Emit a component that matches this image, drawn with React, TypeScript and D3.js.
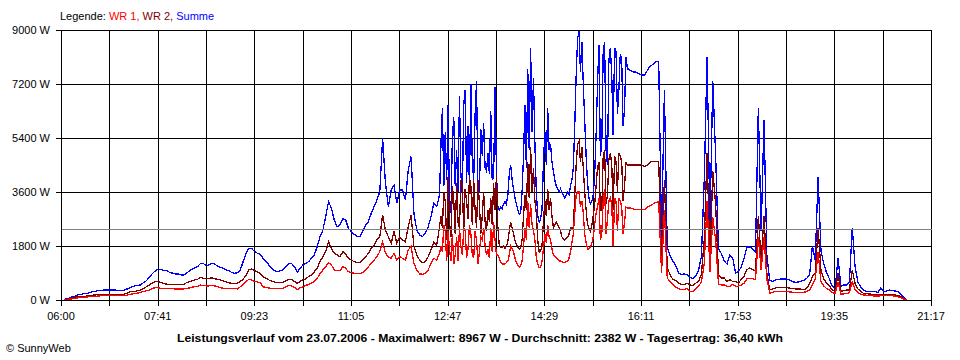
import React from "react";
import * as d3 from "d3";

// Sampling times, minutes after 06:00 (3-min samples, 1.5-min samples in the gusty midday part)
const sampleMinutes = [
  ...d3.range(3, 400, 3),
  ...d3.range(400.5, 599, 1.5),
  ...d3.range(600, 892, 3),
];
const SPAN_MIN = 917; // 06:00 .. 21:17

const xTickLabels = ["06:00", "07:41", "09:23", "11:05", "12:47", "14:29", "16:11", "17:53", "19:35", "21:17"];
const yTickValues = [0, 1800, 3600, 5400, 7200, 9000];
const averageW = 2382;
const legendParts = [
  { text: "Legende: ", color: "#000000" },
  { text: "WR 1, ", color: "#ff0000" },
  { text: "WR 2, ", color: "#800000" },
  { text: "Summe", color: "#0000ff" },
];
const title = "Leistungsverlauf vom 23.07.2006 - Maximalwert: 8967 W - Durchschnitt: 2382 W - Tagesertrag: 36,40 kWh";
const credit = "© SunnyWeb";

// Summe (blue)
const summe = [
  20, 40, 70, 110, 130, 170, 190, 210, 220, 240,
  280, 290, 310, 320, 330, 330, 330, 330, 330, 320,
  310, 320, 360, 390, 440, 470, 490, 500, 580, 640,
  760, 870, 960, 1020, 1020, 990, 980, 930, 900, 870,
  870, 840, 830, 890, 960, 1030, 1070, 1110, 1220, 1220,
  1140, 1170, 1220, 1200, 1130, 1090, 1060, 1000, 970, 920,
  890, 910, 1000, 1280, 1560, 1720, 1720, 1610, 1560, 1530,
  1390, 1300, 1170, 1060, 980, 940, 970, 1000, 1110, 1200,
  1220, 1110, 920, 1060, 1170, 1220, 1280, 1390, 1500, 1780,
  2110, 2330, 2780, 3280, 3060, 2670, 2440, 2500, 2720, 2670,
  2390, 2280, 2190, 2130, 2110, 2280, 2500, 2610, 2890, 3110,
  3330, 3610, 5390, 3890, 3110, 3670, 3830, 3220, 3670, 3670,
  3330, 4330, 4780, 2890, 2330, 2170, 2110, 2220, 2440, 2780,
  3220, 3110, 3500,
  // 1.5-min part
  5200, 6400, 3800, 5600, 4000, 6500, 3200, 2900, 5400, 6100,
  3800, 5000, 3600, 6800, 4200, 3500, 6500, 7000, 3900, 5800,
  3800, 7200, 4600, 4000, 6200, 7300, 3500, 3600, 5700, 4800,
  5900, 4400, 4300, 4900, 4200, 6300, 4000, 4100, 7100, 4200,
  3100, 3000, 3100, 3050, 3200, 3300, 3200, 3500, 4200, 4500,
  4000, 3700, 3400, 3200, 3000, 2850, 2900, 3600, 4800, 6500,
  4400, 7700, 5000, 8400, 5600, 7400, 5200, 3600, 2800, 2600,
  2700, 3000, 4600, 5600, 4500, 6400, 5000, 5200, 4600, 4300,
  4000, 3800, 3700, 3600, 3700, 3600, 3500, 3400, 3500, 3600,
  3500, 3800, 4000, 4400, 5800, 7500, 8700, 8967, 7600, 8600,
  7200, 6000, 4800, 3900, 3400, 3200, 3300, 3500, 4200, 5500,
  7200, 8500, 4800, 5200, 8300, 8600, 5000, 4500, 8000, 8400,
  7500, 5500, 8400, 8300, 6200, 7000, 8200, 8000, 5800, 6400,
  8100, 7700, 7700,
  // 3-min part
  7650,
  7600, 7600, 7550, 7500, 7500, 7650, 7800, 7850, 7950, 7950,
  2100, 7000, 1750, 1460, 1300, 1150, 900, 840, 870, 840,
  750, 720, 800, 1000, 1450, 4000, 8100, 2500, 7300, 4800,
  1700, 1550, 1300, 1200, 1500, 1400, 900, 950, 1100, 1400,
  1770, 1770, 1700, 1600, 6400, 2300, 6000, 1500, 650, 620,
  670, 690, 700, 700, 700, 660, 610, 590, 600, 630,
  660, 720, 830, 1800, 1330, 4100, 1650, 1200, 900, 700,
  450, 390, 1400, 450, 500, 500, 600, 2400, 1100, 600,
  420, 330, 280, 280, 280, 280, 250, 400, 280, 300,
  330, 320, 300, 280, 190, 110, 0,
];

// WR 2 (dark red)
const wr2 = [
  10, 20, 40, 90, 100, 110, 110, 120, 130, 140,
  160, 170, 180, 180, 180, 180, 180, 180, 180, 180,
  190, 190, 220, 270, 280, 290, 310, 330, 390, 440,
  500, 560, 610, 610, 590, 560, 530, 510, 510, 510,
  510, 510, 520, 570, 610, 640, 670, 690, 760, 720,
  710, 720, 740, 710, 690, 670, 630, 600, 570, 560,
  560, 560, 620, 690, 830, 1000, 1030, 980, 930, 890,
  780, 720, 670, 630, 600, 580, 580, 590, 640, 690,
  680, 620, 560, 620, 670, 710, 780, 830, 940, 1060,
  1280, 1440, 1610, 1940, 1720, 1560, 1500, 1440, 1610, 1530,
  1390, 1330, 1280, 1240, 1240, 1330, 1440, 1560, 1720, 1830,
  2000, 2110, 2830, 2330, 2110, 1890, 2280, 1890, 2110, 2000,
  1940, 2440, 2830, 1780, 1500, 1330, 1240, 1280, 1440, 1670,
  1940, 1830, 2440,
  // 1.5-min part
  2800, 2400, 3600, 3300, 2000, 4100, 2600, 2100, 3800, 3300,
  2200, 3900, 2600, 2400, 4000, 3800, 2300, 3700, 3300, 2700,
  4100, 3800, 2500, 4000, 3000, 2400, 4000, 3200, 2200, 2800,
  3600, 2600, 2300, 3000, 2600, 3400, 2500, 3900, 3000, 4200,
  2400, 1800, 1750, 1750, 1800, 1700, 1800, 1950, 2300, 2600,
  2400, 2200, 2000, 1850, 1750, 1700, 1750, 2000, 2800, 3500,
  3000, 4600, 3400, 5100, 3600, 4400, 3300, 2900, 2000, 1600,
  1650, 1800, 2600, 3300, 2800, 3700, 3000, 3400, 2800, 2400,
  2500, 2600, 2500, 2400, 2300, 2100, 2050, 2000, 2050, 2100,
  2200, 2400, 2400, 2400, 3500, 4500, 5200, 5300, 4600, 5100,
  4400, 3600, 3000, 2500, 2400, 2300, 2500, 2800, 3200, 3800,
  4400, 4600, 3000, 3000, 4800, 5000, 3200, 3500, 4700, 4900,
  4500, 3000, 4800, 4600, 3600, 4900, 4800, 4600, 3300, 3800,
  4600, 4500, 4500,
  // 3-min part
  4500,
  4500, 4500, 4500, 4500, 4450, 4500, 4600, 4620, 4620, 4620,
  1300, 4000, 1070, 850, 680, 650, 560, 510, 510, 560,
  510, 470, 560, 620, 850, 2000, 4900, 1300, 4300, 3200,
  850, 730, 730, 620, 680, 620, 620, 570, 680, 800,
  1010, 1070, 1010, 960, 2800, 1300, 2800, 900, 340, 370,
  400, 420, 420, 420, 410, 400, 380, 370, 370, 360,
  340, 390, 530, 780, 890, 2400, 1000, 700, 560, 460,
  330, 290, 890, 290, 310, 330, 340, 1000, 550, 370,
  280, 220, 210, 200, 190, 180, 170, 190, 190, 190,
  190, 190, 170, 150, 120, 60, 0,
];

// WR 1 (red)
const wr1 = [
  10, 20, 30, 40, 60, 70, 80, 90, 100, 110,
  120, 120, 130, 140, 140, 140, 140, 140, 140, 140,
  140, 140, 160, 180, 200, 220, 230, 260, 280, 310,
  330, 380, 410, 410, 390, 380, 380, 380, 380, 370,
  370, 370, 370, 380, 400, 430, 440, 460, 500, 480,
  470, 470, 480, 470, 440, 410, 390, 380, 380, 380,
  380, 370, 440, 530, 610, 690, 670, 620, 600, 580,
  440, 420, 400, 390, 380, 380, 380, 390, 440, 480,
  470, 420, 340, 410, 440, 490, 510, 560, 620, 720,
  870, 1000, 1110, 1240, 1170, 1000, 980, 970, 1110, 1060,
  940, 910, 890, 870, 880, 920, 1000, 1110, 1220, 1330,
  1440, 1610, 1940, 1560, 1440, 1390, 1560, 1330, 1440, 1390,
  1330, 1670, 1780, 1220, 1000, 870, 860, 890, 1000, 1220,
  1390, 1330, 1560,
  // 1.5-min part
  1800, 1600, 2500, 2300, 1300, 2300, 1700, 1300, 2200, 1200,
  1500, 2100, 1300, 2400, 1800, 1500, 2400, 2300, 1400, 1700,
  2500, 2200, 1500, 1400, 2300, 2000, 1200, 1600, 2100, 2000,
  2400, 1800, 1500, 1700, 1400, 2400, 1600, 2600, 2000, 1500,
  1500, 1400, 1250, 1200, 1200, 1200, 1250, 1300, 1500, 1800,
  1700, 1600, 1400, 1250, 1150, 1100, 1150, 1300, 1800, 2400,
  2000, 3300, 2400, 3200, 2500, 2300, 2000, 1400, 1200, 1070,
  1100, 1300, 1700, 2200, 1900, 2500, 2100, 2000, 1700, 1500,
  1450, 1400, 1350, 1300, 1300, 1280, 1260, 1250, 1270, 1300,
  1400, 1600, 1900, 2200, 2900, 3500, 3600, 3600, 3100, 3300,
  2900, 2200, 1900, 1700, 1700, 1750, 1900, 2100, 2500, 2900,
  3100, 3400, 2000, 2200, 3300, 3700, 2200, 2700, 3300, 3400,
  3200, 1800, 3400, 3300, 2300, 3400, 3300, 3100, 2200, 2600,
  3100, 3070, 3070,
  // 3-min part
  3070,
  3040, 3010, 3010, 3010, 3010, 3100, 3150, 3200, 3250, 3270,
  900, 3000, 730, 620, 510, 420, 380, 350, 350, 380,
  290, 290, 360, 460, 600, 1200, 3290, 950, 2750, 2000,
  530, 500, 500, 460, 460, 520, 460, 460, 500, 560,
  700, 730, 710, 680, 2100, 1000, 2100, 700, 230, 260,
  280, 290, 290, 290, 280, 270, 260, 250, 260, 260,
  260, 280, 330, 500, 700, 1600, 600, 470, 380, 330,
  250, 220, 600, 200, 200, 220, 240, 600, 350, 250,
  200, 170, 160, 150, 140, 130, 130, 140, 140, 140,
  140, 140, 130, 110, 80, 40, 0,
];

const FONT = "'Liberation Sans', Arial, sans-serif";

export default function App() {
  const W = 960;
  const H = 360;
  const x = d3.scaleLinear().domain([0, SPAN_MIN]).range([61, 931]);
  const y = d3.scaleLinear().domain([0, 9000]).range([300, 30]);
  const px = (v: number) => Math.round(v) + 0.5;

  const line = d3
    .line<number>()
    .defined((_, i) => i < sampleMinutes.length)
    .x((_, i) => x(sampleMinutes[i]))
    .y((d) => y(d));

  const gridMins = d3.range(19).map((i) => (i * SPAN_MIN) / 18);
  const labelMins = xTickLabels.map((_, i) => (i * SPAN_MIN) / 9);

  const series = [
    { data: summe, color: "#0000ff" },
    { data: wr2, color: "#800000" },
    { data: wr1, color: "#ff0000" },
  ];

  return (
    <svg
      width={W}
      height={H}
      style={{ position: "absolute", left: 0, top: 0, background: "#ffffff" }}
      fontFamily={FONT}
      fontSize={11}
    >
      <rect x={0} y={0} width={W} height={H} fill="#ffffff" />
      {/* legend */}
      <text x={60} y={20} fontSize={11}>
        {legendParts.map((p, i) => (
          <tspan key={i} fill={p.color}>
            {p.text.replace(/ /g, "\u00a0")}
          </tspan>
        ))}
      </text>

      {/* grid */}
      <g shapeRendering="crispEdges" stroke="#000000" strokeWidth={1}>
        {gridMins.map((m, i) => (
          <line key={"v" + i} x1={px(x(m))} x2={px(x(m))} y1={px(y(9000))} y2={px(y(0)) + 5} />
        ))}
        {yTickValues.map((v, i) => (
          <line key={"h" + i} x1={px(x(0)) - 6} x2={px(x(SPAN_MIN))} y1={px(y(v))} y2={px(y(v))} />
        ))}
      </g>

      {/* y labels */}
      {yTickValues.map((v, i) => (
        <text key={"yl" + i} x={50} y={y(v) + 4} textAnchor="end" fill="#000000">
          {v + " W"}
        </text>
      ))}

      {/* x labels */}
      {labelMins.map((m, i) => (
        <text key={"xl" + i} x={x(m)} y={320} textAnchor="middle" fill="#000000">
          {xTickLabels[i]}
        </text>
      ))}

      {/* series */}
      <g fill="none" strokeWidth={1.3} shapeRendering="crispEdges" strokeLinejoin="miter">
        {series.map((s, i) => (
          <path key={i} d={line(s.data) || ""} stroke={s.color} />
        ))}
      </g>

      {/* average line */}
      <line
        x1={px(x(0))}
        x2={px(x(SPAN_MIN))}
        y1={px(y(averageW))}
        y2={px(y(averageW))}
        stroke="#808080"
        strokeWidth={1}
        shapeRendering="crispEdges"
      />

      {/* title */}
      <text
        x={480}
        y={342}
        textAnchor="middle"
        fontWeight="bold"
        fill="#000000"
        textLength={606}
        lengthAdjust="spacingAndGlyphs"
      >
        {title}
      </text>
      <text x={6} y={352} fill="#000000">
        {credit}
      </text>
    </svg>
  );
}
